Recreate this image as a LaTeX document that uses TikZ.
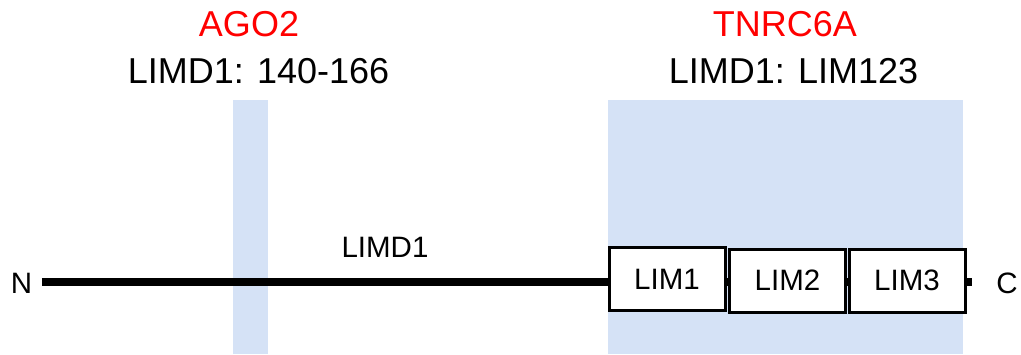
\documentclass[tikz,border=0pt]{standalone}
\usepackage{fontspec}
\setmainfont{Liberation Sans}
\definecolor{bandblue}{RGB}{213,226,246}
\definecolor{labelred}{RGB}{255,0,0}
\begin{document}
\begin{tikzpicture}[x=1pt,y=-1pt,
  band/.style={fill=bandblue,draw=none},
  bigtxt/.style={font=\fontsize{36}{40}\selectfont,inner sep=0pt,anchor=base},
  smalltxt/.style={font=\fontsize{29.5}{34}\selectfont,inner sep=0pt,anchor=base},
  mainline/.style={line width=8.5pt,line cap=butt},
  limbox/.style={draw,line width=3pt,fill=white,minimum width=116pt,minimum height=63pt,inner sep=0pt,font=\fontsize{29.5}{34}\selectfont}]
\useasboundingbox (0,0) rectangle (1021,354);
% shaded regions
\fill[band] (233,100) rectangle (268,354);
\fill[band] (608,100) rectangle (963,354);
% labels
\node[bigtxt,text=labelred] (ago) at (249,36) {AGO2};
\node[bigtxt] (agor) at (258.5,83) {LIMD1: 140-166};
\node[bigtxt,text=labelred] (tnr) at (785,36) {TNRC6A};
\node[bigtxt] (tnrr) at (793.5,83) {LIMD1: LIM123};
% termini
\node[smalltxt,inner xsep=9.5pt] (N) at (21.5,293) {N};
\node[smalltxt] (C) at (1007,293.5) {C};
\coordinate (Cend) at (972,282);
% main line
\draw[mainline] (N.east |- 0,282) -- (Cend);
\node[smalltxt] (limd) at (385,257) {LIMD1};
% domains
\node[limbox] (L1) at (667,279) {LIM1};
\node[limbox] (L2) at (787.5,280.5) {LIM2};
\node[limbox] (L3) at (907,280.5) {LIM3};
\end{tikzpicture}
\end{document}
